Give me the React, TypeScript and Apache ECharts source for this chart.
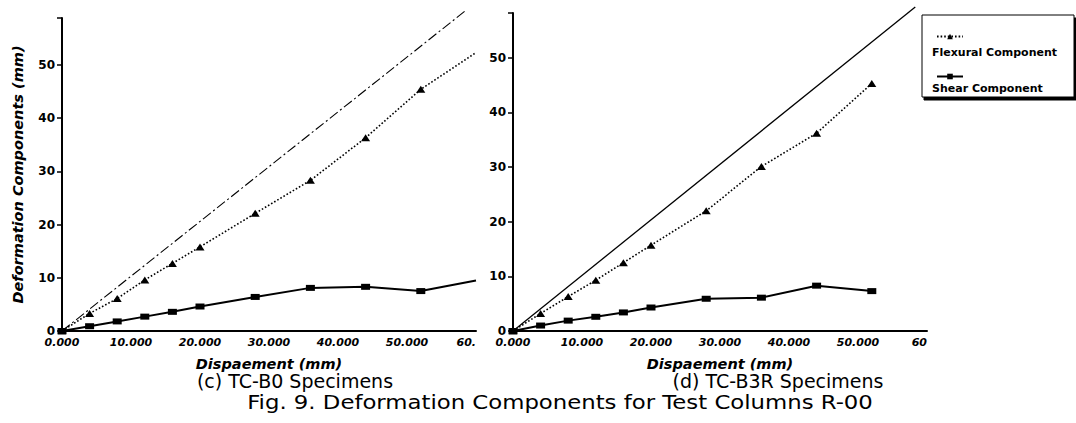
import React, { useEffect, useRef } from 'react';
import * as echarts from 'echarts';

// (c) TC-B0 specimens
const LEFT_X = [0, 4, 8, 12, 16, 20, 28, 36, 44, 52, 60];
const LEFT_FLEX = [0, 3.3, 6.1, 9.6, 12.7, 15.8, 22.1, 28.3, 36.3, 45.4, 52.3];
const LEFT_SHEAR = [0, 0.9, 1.8, 2.7, 3.6, 4.6, 6.4, 8.1, 8.3, 7.5, 9.5];
const LEFT_TOTAL_X = [0, 58.6];
const LEFT_TOTAL_Y = [0, 60.3];

// (d) TC-B3R specimens
const RIGHT_X = [0, 4, 8, 12, 16, 20, 28, 36, 44, 52];
const RIGHT_FLEX = [0, 3.2, 6.3, 9.3, 12.5, 15.7, 22.0, 30.1, 36.2, 45.3];
const RIGHT_SHEAR = [0, 1.0, 1.9, 2.6, 3.4, 4.3, 5.9, 6.1, 8.3, 7.3];
const RIGHT_TOTAL_X = [0, 58.3];
const RIGHT_TOTAL_Y = [0, 59.3];

const X_TICKS_LABEL_DIGITS = 3;
const Y_NAME = 'Deformation Components (mm)';
const X_NAME = 'Dispaement (mm)';
const CAPTION_C = '(c) TC-B0 Specimens';
const CAPTION_D = '(d) TC-B3R Specimens';
const FIG_TITLE = 'Fig. 9. Deformation Components for Test Columns R-00';
const SERIES_FLEX = 'Flexural Component';
const SERIES_SHEAR = 'Shear Component';

const FONT = 'DejaVu Sans';

export default function App() {
  const ref = useRef<HTMLDivElement>(null);
  useEffect(() => {
    const chart = echarts.init(ref.current!, null, { renderer: 'svg' });

    const xAxis = (gridIndex: number, lastLabel: string) => ({
      type: 'value',
      gridIndex,
      min: 0,
      max: 60,
      interval: 10,
      axisLine: { show: true, lineStyle: { color: '#000', width: 2 } },
      axisTick: { show: false },
      splitLine: { show: false },
      axisLabel: {
        color: '#000',
        fontFamily: FONT,
        fontWeight: 'bold',
        fontStyle: 'italic',
        fontSize: 11,
        margin: 6,
        alignMaxLabel: 'right',
        formatter: (v: number) => (v === 60 ? lastLabel : v.toFixed(X_TICKS_LABEL_DIGITS)),
      },
      name: X_NAME,
      nameLocation: 'middle',
      nameGap: 25,
      nameTextStyle: { color: '#000', fontFamily: FONT, fontWeight: 'bold', fontStyle: 'italic', fontSize: 14.5 },
    });

    const yAxis = (gridIndex: number, max: number, withName: boolean) => ({
      type: 'value',
      gridIndex,
      min: 0,
      max,
      interval: 10,
      axisLine: { show: true, lineStyle: { color: '#000', width: 2 } },
      axisTick: { show: true, length: 5, lineStyle: { color: '#000', width: 1.5 } },
      splitLine: { show: false },
      axisLabel: {
        color: '#000',
        fontFamily: FONT,
        fontWeight: 'bold',
        fontSize: 12,
        margin: 7,
        formatter: (v: number) => (Math.abs(v % 10) < 1e-9 ? String(v) : ''),
      },
      name: withName ? Y_NAME : '',
      nameLocation: 'middle',
      nameGap: 37,
      nameTextStyle: { color: '#000', fontFamily: FONT, fontWeight: 'bold', fontStyle: 'italic', fontSize: 14.5 },
    });

    const flexSeries = (idx: number, xs: number[], ys: number[], hideLast: boolean) => ({
      type: 'line',
      name: SERIES_FLEX,
      xAxisIndex: idx,
      yAxisIndex: idx,
      data: xs.map((x, i) => ({
        value: [x, ys[i]],
        symbol: hideLast && i === xs.length - 1 ? 'none' : 'triangle',
      })),
      symbol: 'triangle',
      symbolSize: [9, 7],
      lineStyle: { color: '#000', width: 1.6, type: [1.6, 2] },
      itemStyle: { color: '#000' },
      clip: false,
      z: 3,
    });

    const shearSeries = (idx: number, xs: number[], ys: number[], hideLast: boolean) => ({
      type: 'line',
      name: SERIES_SHEAR,
      xAxisIndex: idx,
      yAxisIndex: idx,
      data: xs.map((x, i) => ({
        value: [x, ys[i]],
        symbol: hideLast && i === xs.length - 1 ? 'none' : 'rect',
      })),
      symbol: 'rect',
      symbolSize: [9, 6],
      lineStyle: { color: '#000', width: 2 },
      itemStyle: { color: '#000' },
      clip: false,
      z: 3,
    });

    const totalSeries = (idx: number, xs: number[], ys: number[], dash: any, width: number) => ({
      type: 'line',
      name: 'Total',
      xAxisIndex: idx,
      yAxisIndex: idx,
      data: xs.map((x, i) => [x, ys[i]]),
      symbol: 'none',
      showSymbol: false,
      lineStyle: { color: '#000', width, type: dash },
      clip: false,
      z: 2,
    });

    const legendBase = {
      left: 931,
      itemWidth: 26,
      itemHeight: 7,
      formatter: () => '',
      textStyle: { fontSize: 1 },
      z: 10,
    };

    const legendLabel = (text: string, y: number) => ({
      type: 'text',
      x: 932,
      y,
      z: 10,
      style: {
        text,
        fontFamily: FONT,
        fontWeight: 'bold',
        fontSize: 11,
        fill: '#000',
        align: 'left',
        verticalAlign: 'middle',
      },
    });

    const caption = (text: string, x: number, y: number, scaleX = 1) => ({
      type: 'text',
      x,
      y,
      scaleX,
      style: { text, fontFamily: FONT, fontSize: 19, fill: '#000', align: 'center', verticalAlign: 'middle' },
    });

    const option: any = {
      animation: false,
      backgroundColor: '#fff',
      grid: [
        { left: 62, top: 18, width: 414, height: 313 },
        { left: 513, top: 13, width: 414, height: 318 },
      ],
      xAxis: [xAxis(0, '60.'), xAxis(1, '60')],
      yAxis: [yAxis(0, 58.8, true), yAxis(1, 58.2, false)],
      legend: [
        { ...legendBase, data: [SERIES_FLEX], top: 28 },
        { ...legendBase, data: [SERIES_SHEAR], top: 68 },
      ],
      graphic: [
        {
          type: 'rect',
          z: 1,
          shape: { x: 922, y: 15, width: 152, height: 82 },
          style: {
            fill: '#fff',
            stroke: '#000',
            lineWidth: 1,
            shadowColor: '#000',
            shadowBlur: 0,
            shadowOffsetX: 2,
            shadowOffsetY: 3,
          },
        },
        legendLabel(SERIES_FLEX, 52),
        legendLabel(SERIES_SHEAR, 88),
        caption(CAPTION_C, 295, 381),
        caption(CAPTION_D, 778, 381),
        caption(FIG_TITLE, 560, 403, 1.2),
      ],
      series: [
        totalSeries(0, LEFT_TOTAL_X, LEFT_TOTAL_Y, [10, 3, 2, 3], 1.1),
        flexSeries(0, LEFT_X, LEFT_FLEX, true),
        shearSeries(0, LEFT_X, LEFT_SHEAR, true),
        totalSeries(1, RIGHT_TOTAL_X, RIGHT_TOTAL_Y, 'solid', 1.3),
        flexSeries(1, RIGHT_X, RIGHT_FLEX, false),
        shearSeries(1, RIGHT_X, RIGHT_SHEAR, false),
      ],
    };

    chart.setOption(option);
    return () => chart.dispose();
  }, []);

  return (
    <div
      ref={ref}
      style={{ position: 'fixed', left: 0, top: 0, width: 1076, height: 423, background: '#fff' }}
    />
  );
}
